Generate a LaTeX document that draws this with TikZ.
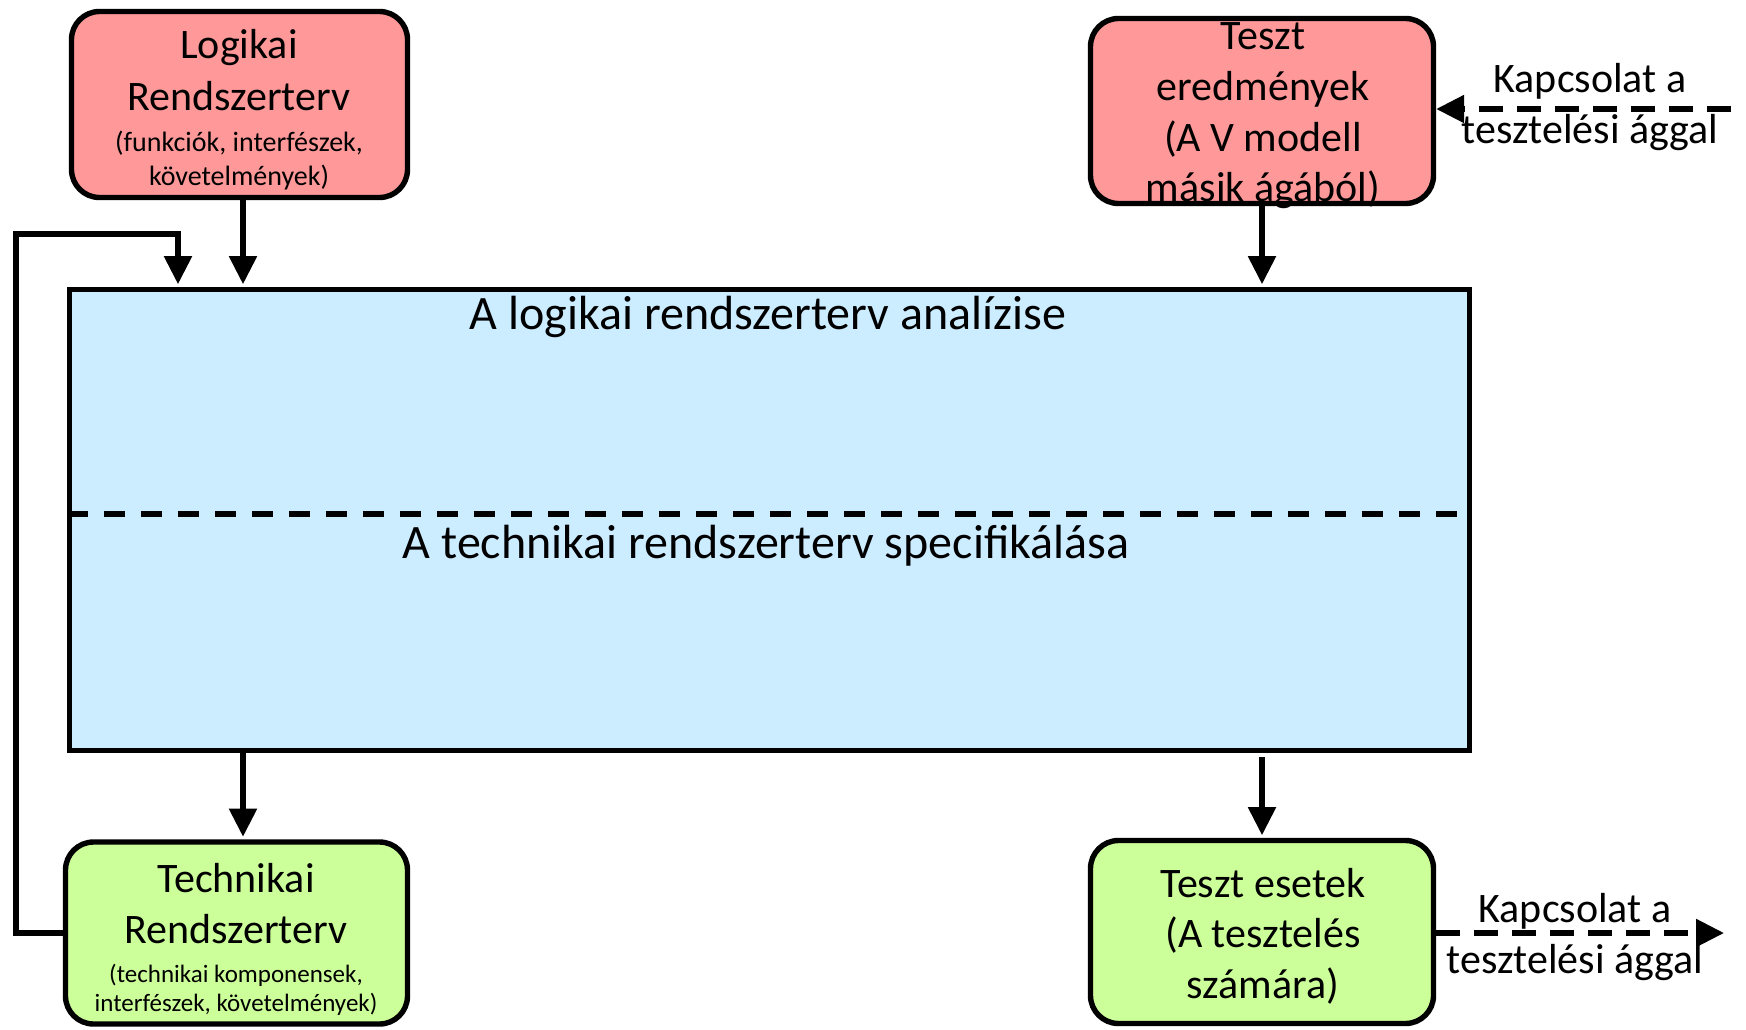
\documentclass[tikz,border=0pt]{standalone}
\usepackage{fontspec}
\setmainfont{Carlito}
\usetikzlibrary{arrows.meta}
\definecolor{redfill}{RGB}{255,153,153}
\definecolor{greenfill}{RGB}{204,255,153}
\definecolor{bluefill}{RGB}{204,236,255}

\begin{document}
\begin{tikzpicture}[x=0.5pt,y=-0.5pt,
  box/.style={draw, line width=2.7pt, rounded corners=14pt, inner sep=0pt},
  redbox/.style={box, fill=redfill},
  greenbox/.style={box, fill=greenfill},
  stage/.style={draw, line width=2.7pt, fill=bluefill, inner sep=0pt},
  big/.style={font=\fontsize{21}{25.5}\selectfont, align=center, inner sep=0pt},
  title/.style={font=\fontsize{24}{28}\selectfont, inner sep=0pt},
  flow/.style={line width=2.6pt, -{Triangle[length=14pt,width=13.5pt]}, shorten >=1.3pt},
  link/.style={line width=2.7pt, -{Triangle[length=14pt,width=13.5pt]}, dash pattern=on 12pt off 7pt},
  split/.style={line width=2.6pt, dash pattern=on 10.5pt off 8pt},
]
\useasboundingbox (0,0) rectangle (1746,1029);

% boxes
\node[redbox, minimum width=168pt, minimum height=93pt] (logi) at (239.5,104.5) {};
\node[redbox, minimum width=171.5pt, minimum height=92.5pt] (terd) at (1262,111) {};
\node[stage, minimum width=700pt, minimum height=230.5pt] (main) at (769.5,520) {};
\node[greenbox, minimum width=171pt, minimum height=91pt] (tech) at (236.5,933) {};
\node[greenbox, minimum width=171.5pt, minimum height=91.5pt] (tcase) at (1262,932) {};

% box texts
\node[big, font=\fontsize{21}{26}\selectfont] (logiT) at (239,110)
  {Logikai\\Rendszerterv\\[-5.5pt]{\fontsize{14}{16}\selectfont(funkciók, interfészek,}\\[-9pt]{\fontsize{14}{16}\selectfont követelmények)}};
\node[big, font=\fontsize{21}{25.3}\selectfont] (terdT) at (1263,116)
  {Teszt\\eredmények\\(A V modell\\másik ágából)};
\node[big] (techT) at (236,939)
  {Technikai\\Rendszerterv\\[-6pt]{\fontsize{12.5}{14}\selectfont(technikai komponensek,}\\[-11pt]{\fontsize{12.5}{14}\selectfont interfészek, követelmények)}};
\node[big, font=\fontsize{21}{25.3}\selectfont] (tcaseT) at (1263,936)
  {Teszt esetek\\(A tesztelés\\számára)};

\node[title] (anal) at (768,317) {A logikai rendszerterv analízise};
\node[title] (spec) at (766,546) {A technikai rendszerterv specifikálása};

% divider between the two stages
\coordinate (sp) at (0,514);
\draw[split] (main.west |- sp) -- (main.east |- sp);

% vertical flows
\coordinate (xl) at (243,0);
\draw[flow] (logi.south -| xl) -- (main.north -| xl);
\draw[flow] (terd.south) -- (main.north -| terd.south);
\draw[flow] (main.south -| xl) -- (tech.north -| xl);
\coordinate (xr) at (1263,757);
\draw[flow] (xr -| tcase.north) -- (tcase.north);

% feedback loop from the technical plan
\coordinate (fbL) at (16,234);
\coordinate (fbR) at (178,234);
\draw[flow] (tech.west) -- (tech.west -| fbL) -- (fbL) -- (fbR) -- (main.north -| fbR);

% links to the testing branch
\coordinate (inR) at (1731,109);
\draw[link] (inR) -- (terd.east |- inR);
\node[big] (inL) at (1590,107) {Kapcsolat a\\tesztelési ággal};

\coordinate (outR) at (1724,933);
\draw[link] (tcase.east |- outR) -- (outR);
\node[big] (outL) at (1575,937) {Kapcsolat a\\tesztelési ággal};
\end{tikzpicture}
\end{document}
